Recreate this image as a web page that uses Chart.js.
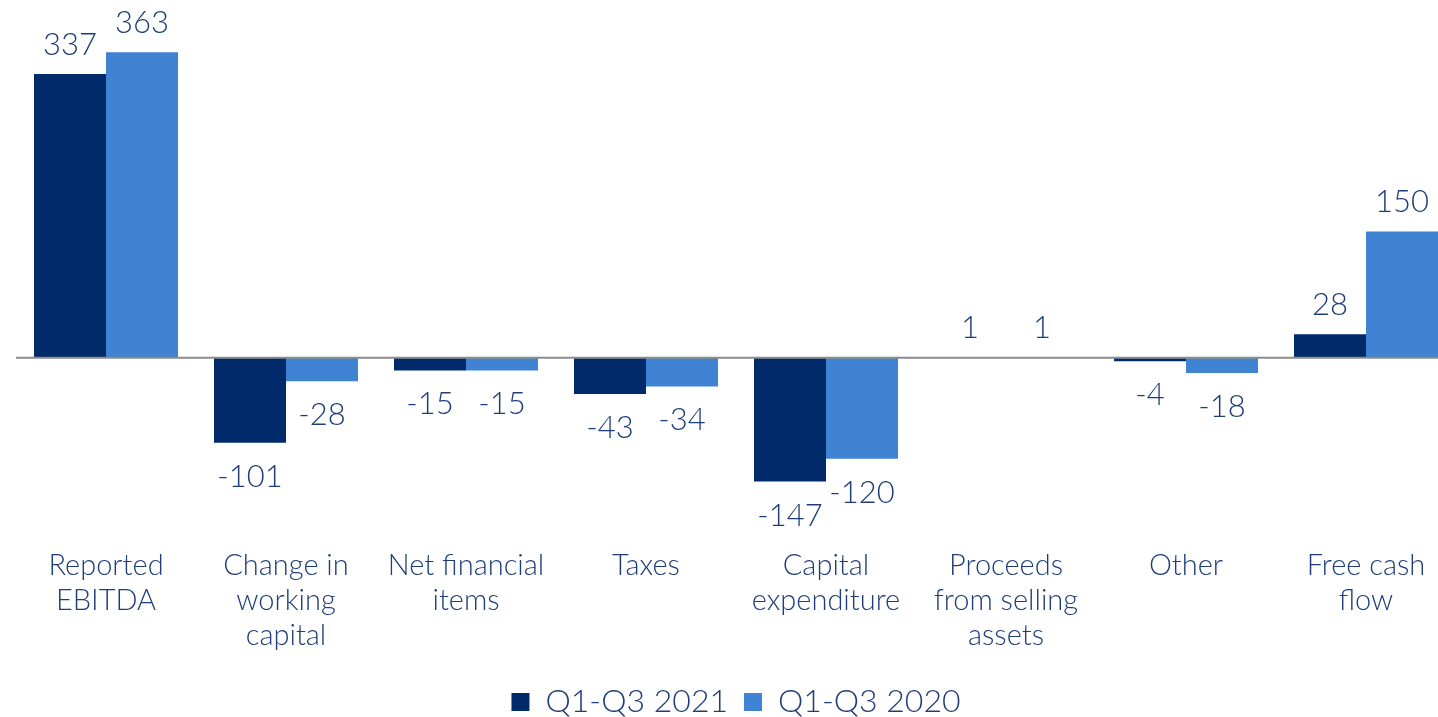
<!DOCTYPE html>
<html>
<head>
<meta charset="utf-8">
<script src="https://cdn.jsdelivr.net/npm/chart.js@4.4.1/dist/chart.umd.min.js"></script>
<style>
  html, body { margin: 0; padding: 0; background: #fff; overflow: hidden; }
  #wrap { position: relative; width: 1456px; height: 717px; }
</style>
</head>
<body>
<div id="wrap"><canvas id="cashChart"></canvas></div>
<script>
const categories = [
  ["Reported", "EBITDA"],
  ["Change in", "working", "capital"],
  ["Net financial", "items"],
  ["Taxes"],
  ["Capital", "expenditure"],
  ["Proceeds", "from selling", "assets"],
  ["Other"],
  ["Free cash", "flow"]
];
const seriesNames = ["Q1-Q3 2021", "Q1-Q3 2020"];
const values2021 = [337, -101, -15, -43, -147, 1, -4, 28];
const values2020 = [363, -28, -15, -34, -120, 1, -18, 150];

const textColor = "#1f3d7a";
const fontFamily = "'Lato Light', Lato, 'Open Sans', sans-serif";

const valueLabels = {
  id: "valueLabels",
  afterDatasetsDraw(chart) {
    const ctx = chart.ctx;
    ctx.save();
    ctx.font = "300 31px " + fontFamily;
    ctx.fillStyle = textColor;
    ctx.textAlign = "center";
    ctx.textBaseline = "middle";
    chart.data.datasets.forEach((ds, i) => {
      chart.getDatasetMeta(i).data.forEach((bar, j) => {
        const v = ds.data[j];
        const y = v >= 0 ? bar.y - 29 : bar.y + 34;
        ctx.fillText(String(v), bar.x, y);
      });
    });
    ctx.restore();
  }
};

const zeroLine = {
  id: "zeroLine",
  afterDatasetsDraw(chart) {
    const ctx = chart.ctx;
    const y = chart.scales.y.getPixelForValue(0);
    ctx.save();
    ctx.strokeStyle = "#8c8c8c";
    ctx.lineWidth = 2;
    ctx.beginPath();
    ctx.moveTo(chart.chartArea.left, y);
    ctx.lineTo(chart.chartArea.right, y);
    ctx.stroke();
    ctx.restore();
  }
};

new Chart(document.getElementById("cashChart"), {
  type: "bar",
  data: {
    labels: categories,
    datasets: [
      { label: seriesNames[0], data: values2021, backgroundColor: "#012a6b" },
      { label: seriesNames[1], data: values2020, backgroundColor: "#3f83d2" }
    ]
  },
  options: {
    responsive: true,
    maintainAspectRatio: false,
    animation: false,
    layout: { padding: { left: 16, right: 0, top: 21, bottom: -11 } },
    datasets: { bar: { categoryPercentage: 0.8, barPercentage: 1.0 } },
    scales: {
      x: {
        grid: { display: false, drawTicks: false },
        border: { display: false },
        ticks: {
          color: textColor,
          font: { family: fontFamily, size: 29, weight: 300, lineHeight: 1.207 },
          padding: 5,
          maxRotation: 0,
          autoSkip: false
        },
        afterFit(scale) { scale.height = 127; }
      },
      y: {
        display: false,
        min: -220,
        max: 400
      }
    },
    plugins: {
      legend: {
        position: "bottom",
        labels: {
          color: textColor,
          font: { family: fontFamily, size: 32, weight: 300 },
          boxWidth: 18,
          boxHeight: 18,
          padding: 16
        }
      },
      tooltip: { enabled: false }
    }
  },
  plugins: [zeroLine, valueLabels]
});
</script>
</body>
</html>
